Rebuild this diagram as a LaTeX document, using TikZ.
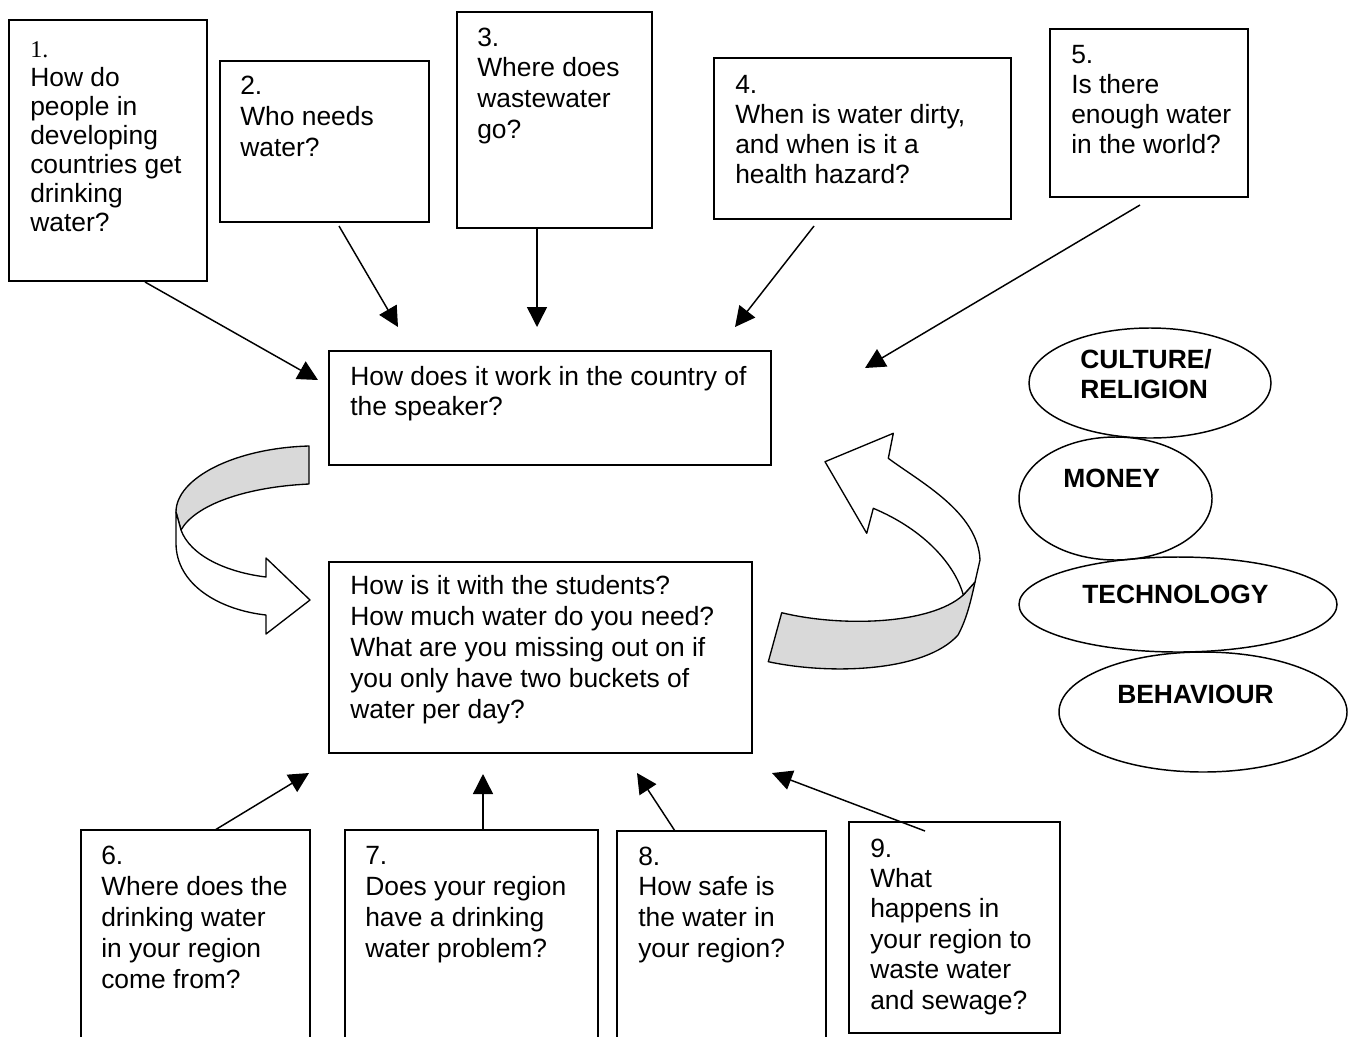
\documentclass[tikz,border=0pt]{standalone}
\usepackage{fontspec}
\setmainfont{Liberation Sans}
\newfontfamily\serifnum{Liberation Serif}
\usetikzlibrary{arrows.meta,shapes.geometric,calc}
\begin{document}
\begin{tikzpicture}[x=0.75pt,y=-0.75pt,
  qbox/.style={draw, line width=1.1pt, rectangle, anchor=north west, inner sep=0pt, outer sep=0pt},
  sz/.style 2 args={minimum width=#1*0.75pt, minimum height=#2*0.75pt},
  txt/.style={anchor=base west, align=left, inner sep=0pt, font=\fontsize{19.8}{#1}\selectfont},
  txt/.default=22.5,
  oval/.style={draw, line width=1.1pt, ellipse, inner sep=0pt, outer sep=0pt},
  otxt/.style={anchor=base west, align=left, inner sep=0pt, font=\fontsize{19.8}{22.5}\selectfont\bfseries},
  conn/.style={line width=1.1pt, -{Triangle[length=15pt,width=15pt]}},
  ribbon/.style={draw, line width=1pt, line join=round},
  backside/.style={ribbon, fill=gray!30},
  frontside/.style={ribbon, fill=white}
]
\clip (0,0) rectangle (1355,1036);
\fill[white] (0,0) rectangle (1355,1036);

% question boxes
\node[qbox, sz={198}{261}] (b1) at (9,20) {};
\node[qbox, sz={209}{161}] (b2) at (220,61) {};
\node[qbox, sz={195}{216}] (b3) at (457,12) {};
\node[qbox, sz={297}{161}] (b4) at (714,58) {};
\node[qbox, sz={198}{168}] (b5) at (1050,29) {};
\node[qbox, sz={442}{114}] (bt) at (329,351) {};
\node[qbox, sz={423}{191}] (bb) at (329,562) {};
\node[qbox, sz={229}{230}] (b6) at (81,830) {};
\node[qbox, sz={253}{230}] (b7) at (345,830) {};
\node[qbox, sz={209}{229}] (b8) at (617,831) {};
\node[qbox, sz={211}{211}] (b9) at (849,822) {};

% texts (anchored at the baseline of the last line)
\node[txt=21.75] (b1t) at (30,231) {{\serifnum\fontsize{18}{21.75}\selectfont 1.}\\How do\\people in\\developing\\countries get\\drinking\\water?};
\node[txt=22.9] (b2t) at (240,156) {2.\\Who needs\\water?};
\node[txt=22.9] (b3t) at (477,138) {3.\\Where does\\wastewater\\go?};
\node[txt=22.3] (b4t) at (735,183) {4.\\When is water dirty,\\and when is it a\\health hazard?};
\node[txt=22.5] (b5t) at (1071,153) {5.\\Is there\\enough water\\in the world?};
\node[txt=22.5] (btt) at (350,415) {How does it work in the country of\\the speaker?};
\node[txt=23.1] (bbt) at (350,718) {How is it with the students?\\How much water do you need?\\What are you missing out on if\\you only have two buckets of\\water per day?};
\node[txt=23.25] (b6t) at (101,988) {6.\\Where does the\\drinking water\\in your region\\come from?};
\node[txt=23.25] (b7t) at (365,957) {7.\\Does your region\\have a drinking\\water problem?};
\node[txt=23] (b8t) at (638,957) {8.\\How safe is\\the water in\\your region?};
\node[txt=22.8] (b9t) at (870,1009) {9.\\What\\happens in\\your region to\\waste water\\and sewage?};

% ellipses
\node[oval, sz={242}{110}] (e1) at (1150,383) {};
\node[oval, sz={193}{123}] (e2) at (1115.5,498.5) {};
\node[oval, sz={318}{95}] (e3) at (1178,604.5) {};
\node[oval, sz={288}{120}] (e4) at (1203,712) {};
\node[otxt] (e1t) at (1080,398) {CULTURE/\\RELIGION};
\node[otxt] (e2t) at (1063,487) {MONEY};
\node[otxt] (e3t) at (1082,603) {TECHNOLOGY};
\node[otxt] (e4t) at (1117,703) {BEHAVIOUR};

% arrow end points
\coordinate (t1) at (318,380);
\coordinate (t2) at (398,327);
\coordinate (t3) at (537,327);
\coordinate (t4) at (735,327);
\coordinate (t5) at (865,368);
\coordinate (t6) at (309,773);
\coordinate (t7) at (483,774);
\coordinate (t8) at (637,773);
\coordinate (t9) at (772,773);

\draw[conn] ($(b1.south west)+(136,1)$) -- (t1);
\draw[conn] ($(b2.south west)+(119,4)$) -- (t2);
\draw[conn] (t3 |- b3.south) -- (t3);
\draw[conn] ($(b4.south west)+(100,7)$) -- (t4);
\draw[conn] ($(b5.south west)+(90,8)$) -- (t5);
\draw[conn] ($(b6.north west)+(134,0)$) -- (t6);
\draw[conn] (t7 |- b7.north) -- (t7);
\draw[conn] ($(b8.north west)+(58,0)$) -- (t8);
\draw[conn] ($(b9.north west)+(76,9)$) -- (t9);

% left curved ribbon arrow
\filldraw[backside] (309,446) .. controls (235,448) and (176,478) .. (176,512)
  -- (181,530) .. controls (195,505) and (245,487) .. (309,484) -- cycle;
\filldraw[frontside] (176,512) -- (176,543) .. controls (176,585) and (220,610) .. (266,615)
  -- (266,634) -- (310,600) -- (266,558) -- (266,577)
  .. controls (225,572) and (190,555) .. (181,530) -- cycle;

% right curved ribbon arrow
\filldraw[backside] (781.7,612.7) .. controls (840,627) and (930,625) .. (963.3,595)
  -- (975,582) .. controls (970,605) and (966,620) .. (958,635)
  .. controls (925,672) and (830,675) .. (768.3,661.7) -- cycle;
\filldraw[frontside] (963.3,595) .. controls (955,565) and (925,530) .. (873.3,508.3)
  -- (866.7,533.3) -- (825,461.7) -- (893.3,433.3) -- (888.3,458.3)
  .. controls (920,482) and (978,512) .. (980,560) -- (975,582) -- cycle;
\end{tikzpicture}
\end{document}
